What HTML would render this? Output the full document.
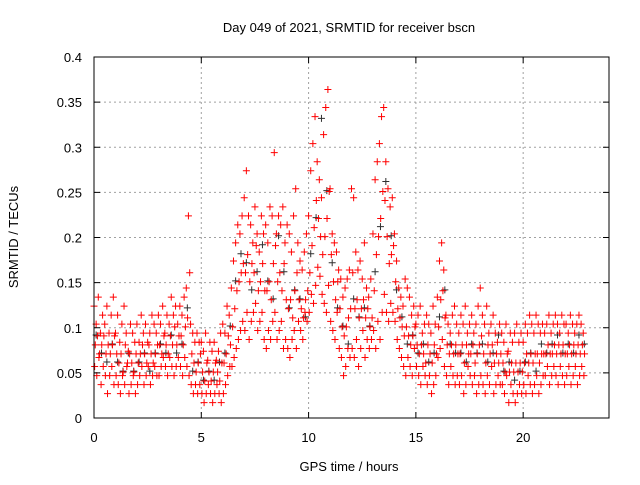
<!DOCTYPE html>
<html><head><meta charset="utf-8"><style>
body{margin:0;background:#fff;}
svg text{font-family:"Liberation Sans",sans-serif;font-size:13px;fill:#000;}
</style></head><body>
<svg id="c" width="640" height="480">
<rect width="640" height="480" fill="#fff"/>
<g id="grid"></g><g id="pts"></g>
<rect x="94" y="57" width="515" height="361" fill="none" stroke="#000" stroke-width="1"/>
<g id="ticks"></g>
<text x="349" y="32" text-anchor="middle">Day 049 of 2021, SRMTID for receiver bscn</text>
<text x="349" y="471" text-anchor="middle">GPS time / hours</text>
<text x="18" y="237" text-anchor="middle" transform="rotate(-90 18 237)">SRMTID / TECUs</text>
</svg>
<script>
const xTicks=[0,5,10,15,20];
const yTicks=[0,0.05,0.1,0.15,0.2,0.25,0.3,0.35,0.4];
const yTickLabels=["0","0.05","0.1","0.15","0.2","0.25","0.3","0.35","0.4"];
const redStep=0.1;
const redA=[12,10,13,9,11,10,12,9,11,13,9,11,8,10,12,9,7,10,9,8,10,8,11,9,10,8,9,11,10,9,11,10,12,9,11,10,13,11,12,10,12,11,13,14,22,10,9,8,9,8,8,7,9,6,8,7,8,6,7,9,10,9,12,11,14,17,19,21,20,22,24,27,22,21,19,23,20,18,22,20,21,19,23,22,29,20,22,21,23,19,21,20,18,22,25,19,17,16,18,20,22,27,30,33,28,26,24,31,34,36,25,20,19,18,16,15,13,14,15,16,25,24,18,16,17,15,19,14,13,15,20,26,28,30,33,34,28,25,23,24,20,17,14,13,12,15,14,13,11,12,10,11,12,9,10,11,10,9,12,10,13,17,19,16,11,10,9,11,12,10,9,11,10,12,9,10,11,9,10,12,14,11,10,12,9,10,11,9,8,10,9,8,10,7,9,8,9,10,8,9,8,10,9,11,10,9,11,10,9,10,9,10,11,9,10,11,10,9,11,10,10,9,11,10,9,10,11,10,9];
const redB=[6,5,7,4,6,5,3,5,6,4,5,4,3,5,4,6,3,4,5,3,4,5,6,4,5,6,4,5,6,5,5,6,7,6,5,7,6,5,6,7,6,5,7,6,5,4,3,4,3,4,3,2,3,4,3,2,3,4,3,2,3,4,5,6,6,7,8,9,10,11,10,12,9,11,12,13,10,11,12,9,8,10,9,11,12,9,10,11,8,9,8,7,9,10,8,11,10,9,12,11,12,14,13,15,17,16,14,13,12,15,11,10,9,12,8,7,5,6,8,7,8,7,9,6,8,10,7,9,8,9,10,8,11,9,12,14,12,11,13,12,11,9,8,7,6,5,7,6,5,8,6,5,4,6,5,4,5,3,4,5,7,8,9,6,5,4,6,5,4,5,4,5,3,4,6,5,4,5,3,4,5,4,3,5,4,6,3,4,5,4,4,3,5,2,4,3,2,3,4,3,4,3,5,4,3,4,5,3,4,5,5,6,4,5,6,5,4,6,5,4,5,6,4,5,6,4,5,6,5];
const redC=[8,9,7,8,9,7,8,7,8,9,7,6,7,5,8,6,7,6,5,7,6,7,8,7,6,8,7,6,7,8,8,7,9,8,7,9,8,10,8,9,9,8,10,11,16,7,6,5,6,7,5,4,6,5,4,5,6,5,4,6,6,7,9,8,10,12,14,15,16,17,16,18,15,17,16,19,14,15,17,14,14,15,13,17,19,15,16,14,17,13,12,13,11,14,16,13,12,11,13,14,16,19,21,24,22,20,18,20,22,25,18,15,13,15,12,10,9,10,11,12,16,12,13,11,12,13,11,12,10,11,14,18,20,22,25,24,20,17,18,19,15,12,11,10,9,10,9,8,9,10,8,7,8,7,6,8,7,6,8,7,10,13,14,11,8,7,8,7,8,7,7,8,6,8,7,7,8,6,7,8,9,7,6,8,7,8,6,7,6,7,6,5,7,5,6,5,6,5,6,5,6,7,6,7,6,7,7,6,7,7,7,8,7,7,8,7,8,7,8,7,7,8,7,8,7,8,7,8,7];
const grayStep=0.25;
const grayVals=[9,7,6,8,6,5,7,5,6,7,5,7,8,7,9,7,8,12,5,6,4,5,4,6,7,10,15,18,17,14,16,19,15,13,20,16,12,14,13,11,18,22,33,25,17,12,10,8,13,11,12,10,16,21,26,20,14,11,8,9,7,8,6,7,11,14,8,7,7,6,8,7,8,6,7,9,5,6,4,5,6,7,5,8,7,8,9,7,8,7,9,8];
const X=h=>94+h*(515/24);
const Y=v=>418-v*(361/0.4);
const NS="http://www.w3.org/2000/svg";
const grid=document.getElementById('grid'),ticks=document.getElementById('ticks'),pts=document.getElementById('pts');
function mk(t,a,p){const e=document.createElementNS(NS,t);for(const k in a)e.setAttribute(k,a[k]);p.appendChild(e);return e;}
xTicks.forEach(t=>{const x=X(t);
 if(t>0){const g=mk('line',{x1:x,x2:x,y1:57,y2:418,stroke:'#a0a0a0','stroke-dasharray':'2,3'},grid);
 
 }
 mk('line',{x1:x,x2:x,y1:418,y2:412,stroke:'#000'},ticks);mk('line',{x1:x,x2:x,y1:57,y2:63,stroke:'#000'},ticks);
 const l=mk('text',{x:x,y:442,'text-anchor':'middle'},ticks);l.textContent=t;
 
 });
yTicks.forEach((t,i)=>{const y=Y(t);
 if(i>0&&i<yTicks.length-1){const g=mk('line',{x1:94,x2:609,y1:y,y2:y,stroke:'#a0a0a0','stroke-dasharray':'2,3'},grid);
 
 }
 mk('line',{x1:94,x2:100,y1:y,y2:y,stroke:'#000'},ticks);mk('line',{x1:603,x2:609,y1:y,y2:y,stroke:'#000'},ticks);
 const l=mk('text',{x:82,y:y+5,'text-anchor':'end'},ticks);l.textContent=yTickLabels[i];
 
 });
function plus(h,v,col,name){const x=X(h),y=Y(v);
 const p=mk('path',{d:`M${x-3.5} ${y}h7M${x} ${y-3.5}v7`,stroke:col,'stroke-width':1,fill:'none'},pts);
 
 }
grayVals.forEach((v,i)=>plus(i*grayStep+0.1,v/100+0.002,'#303030','gray-point'));
const layerShift=[0.004,-0.003,0.001];
[redA,redB,redC].forEach((arr,k)=>arr.forEach((v,i)=>plus(i*redStep+k*0.03,v/100+layerShift[k],'#ff0000','red-point')));
</script>
</body></html>
